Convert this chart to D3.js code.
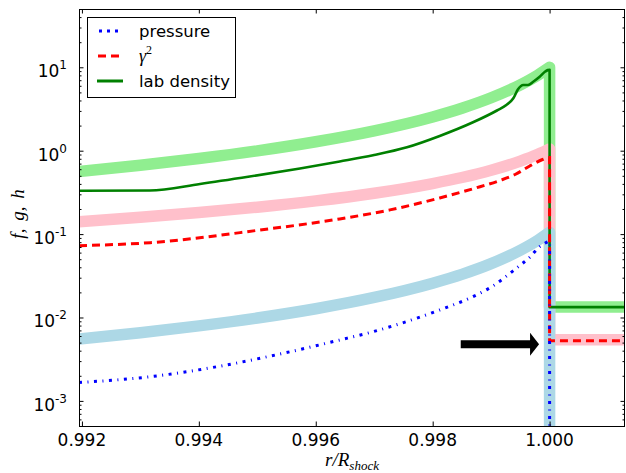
<!DOCTYPE html>
<html><head><meta charset="utf-8">
<script src="https://cdn.jsdelivr.net/npm/d3@7"></script>
<style>body{margin:0;background:#fff}svg{display:block}</style>
</head><body><svg id="c" width="626" height="473"></svg>
<script>
// ---------- data ----------
const xDomain = [0.99195, 1.00129];
const yDomain = [5e-4, 50];
const xTicks = [0.992, 0.994, 0.996, 0.998, 1.000];
const xTickLabels = ["0.992", "0.994", "0.996", "0.998", "1.000"];
const yTicks = [1e-3, 1e-2, 1e-1, 1, 10];
const yTickExp = ["-3", "-2", "-1", "0", "1"];

// analytic (thick, light) profiles, upstream of the shock
const rAnalytic = [0.99195, 0.993, 0.994, 0.995, 0.996, 0.997, 0.998, 0.9985, 0.999, 0.9995, 0.9998, 1.0];
const densAnalytic  = [0.564, 0.669, 0.805, 0.996, 1.28, 1.73, 2.54, 3.23, 4.31, 6.17, 8.08, 10.0];
const gammaAnalytic = [0.141, 0.159, 0.181, 0.21, 0.25, 0.309, 0.404, 0.477, 0.583, 0.75, 0.905, 1.05];
const presAnalytic  = [0.0055, 0.00655, 0.00793, 0.00986, 0.01274, 0.01738, 0.0258, 0.0329, 0.0442, 0.064, 0.0844, 0.105];
// analytic jump at the shock and downstream values
const rJump = [1.0, 1.0, 1.0016];
const densAnalyticJump  = [10.0, 0.0134, 0.0134];
const gammaAnalyticJump = [1.05, 0.0054, 0.0054];
const presAnalyticJump  = [0.105, 1e-5, 1e-5];

// numerical (thin) profiles
const rDensNum = [0.99195, 0.99316, 0.99402, 0.99487, 0.99573, 0.99641, 0.99698, 0.99756, 0.99812, 0.99869,
                  0.99910, 0.99926, 0.99938, 0.99946, 0.99955, 0.99963, 0.99972, 0.99983, 0.99992, 0.99997];
const densNum = [0.331, 0.333, 0.399, 0.490, 0.612, 0.742, 0.881, 1.098, 1.501, 2.190,
                 3.034, 3.53, 4.25, 5.45, 6.13, 6.13, 6.71, 7.70, 8.85, 9.28];
const rGammaNum = [0.99195, 0.99317, 0.99505, 0.99641, 0.99727, 0.99812, 0.99881, 0.99915, 0.99941, 0.99966, 0.99988, 0.99997];
const gammaNum = [0.0727, 0.0789, 0.112, 0.152, 0.195, 0.271, 0.370, 0.439, 0.518, 0.656, 0.784, 0.829];
const rPresNum = [0.99195, 0.99317, 0.99431, 0.99544, 0.99641, 0.99698, 0.99755, 0.99812, 0.99869, 0.99903,
                  0.99943, 0.99966, 0.99983, 0.99997];
const presNum = [0.00166, 0.00195, 0.00257, 0.00372, 0.00537, 0.00676, 0.00891, 0.0123, 0.0178, 0.0239,
                 0.0389, 0.0527, 0.0706, 0.0811];
const densNumJump  = [9.3, 0.0133, 0.0133];
const gammaNumJump = [0.83, 0.00525, 0.00525];
const presNumJump  = [0.082, 1e-5, 1e-5];

// arrow
const arrowR = [0.99848, 0.99982];
const arrowV = 0.00477;

const legendLabels = ["pressure", "\u03B3", "lab density"];

// ---------- drawing ----------
const svg = d3.select("#c");
const M = {l: 79, r: 625, t: 9, b: 426};
const x = d3.scaleLinear().domain(xDomain).range([M.l, M.r]);
const y = d3.scaleLog().domain(yDomain).range([M.b, M.t]);

svg.append("defs").append("clipPath").attr("id", "clip")
  .append("rect").attr("x", M.l).attr("y", M.t).attr("width", M.r - M.l).attr("height", M.b - M.t);
const plot = svg.append("g").attr("clip-path", "url(#clip)");

function pathFor(rs, vs, rj, vj) {
  const pts = rs.map((r, i) => [x(r), y(vs[i])]);
  const smooth = d3.line().curve(d3.curveMonotoneX)(pts);
  const jp = rj.map((r, i) => [x(r), y(vj[i])]);
  return smooth + "L" + d3.line()(jp).slice(1);
}

const thickW = 11.5;
[[densAnalytic, densAnalyticJump, "#90ee90"],
 [gammaAnalytic, gammaAnalyticJump, "#ffc0cb"],
 [presAnalytic, presAnalyticJump, "#add8e6"]].forEach(([v, vj, c]) => {
  plot.append("path").attr("d", pathFor(rAnalytic, v, rJump, vj))
    .attr("fill", "none").attr("stroke", c).attr("stroke-width", thickW)
    .attr("stroke-linejoin", "round");
});

plot.append("path").attr("d", pathFor(rDensNum, densNum, rJump, densNumJump))
  .attr("fill", "none").attr("stroke", "#008000").attr("stroke-width", 2.6).attr("stroke-linejoin", "round");
plot.append("path").attr("d", pathFor(rGammaNum, gammaNum, rJump, gammaNumJump))
  .attr("fill", "none").attr("stroke", "#ff0000").attr("stroke-width", 3).attr("stroke-dasharray", "8,5");
plot.append("path").attr("d", pathFor(rPresNum, presNum, rJump, presNumJump))
  .attr("fill", "none").attr("stroke", "#0000ff").attr("stroke-width", 3).attr("stroke-dasharray", "3,5.5,1,5.5");

// arrow
(function() {
  const x0 = x(arrowR[0]), x1 = x(arrowR[1]), yc = y(arrowV);
  const hl = 9, sh = 4, hh = 11.5;
  const pts = [[x0, yc - sh], [x1 - hl, yc - sh], [x1 - hl, yc - hh], [x1, yc],
               [x1 - hl, yc + hh], [x1 - hl, yc + sh], [x0, yc + sh]];
  svg.append("path").attr("d", d3.line()(pts) + "Z").attr("fill", "#000");
})();

// frame
svg.append("rect").attr("x", M.l + 0.5).attr("y", M.t + 0.5)
  .attr("width", M.r - M.l - 1).attr("height", M.b - M.t)
  .attr("fill", "none").attr("stroke", "#000").attr("stroke-width", 1);

// ticks
const minorY = [];
for (let e = -4; e <= 1; e++) for (let m = 2; m <= 9; m++) {
  const v = m * Math.pow(10, e);
  if (v > yDomain[0] && v < yDomain[1]) minorY.push(v);
}
function tickAxis(axisGen, transform) {
  const g = svg.append("g").attr("transform", transform).call(axisGen);
  g.select(".domain").remove();
  g.selectAll("text").remove();
  g.selectAll("line").attr("stroke", "#000");
}
tickAxis(d3.axisLeft(y).tickValues(yTicks).tickSize(-4.5).tickSizeOuter(0), `translate(${M.l},0)`);
tickAxis(d3.axisLeft(y).tickValues(minorY).tickSize(-2.5).tickSizeOuter(0), `translate(${M.l},0)`);
tickAxis(d3.axisRight(y).tickValues(yTicks).tickSize(-4.5).tickSizeOuter(0), `translate(${M.r},0)`);
tickAxis(d3.axisRight(y).tickValues(minorY).tickSize(-2.5).tickSizeOuter(0), `translate(${M.r},0)`);
tickAxis(d3.axisBottom(x).tickValues(xTicks).tickSize(-4.5).tickSizeOuter(0), `translate(0,${M.b})`);
tickAxis(d3.axisTop(x).tickValues(xTicks).tickSize(-4.5).tickSizeOuter(0), `translate(0,${M.t})`);

// tick labels
const font = "DejaVu Sans";
xTicks.forEach((t, i) => {
  svg.append("text").attr("x", x(t)).attr("y", 445.5).attr("text-anchor", "middle")
    .attr("font-family", font).attr("font-size", 17).text(xTickLabels[i]);
});
yTicks.forEach((t, i) => {
  const tx = svg.append("text").attr("x", 67).attr("y", y(t) + 10).attr("text-anchor", "end")
    .attr("font-family", font).attr("font-size", 17);
  tx.append("tspan").text("10");
  tx.append("tspan").attr("dy", -8).attr("font-size", 12).text(yTickExp[i]);
});

// axis labels
const xl = svg.append("text").attr("x", 352).attr("y", 466).attr("text-anchor", "middle")
  .attr("font-family", "Liberation Serif").attr("font-style", "italic").attr("font-size", 19);
xl.append("tspan").text("r/R");
xl.append("tspan").attr("dy", 4).attr("font-size", 13).text("shock");

svg.append("text").attr("transform", "translate(24,214) rotate(-90)").attr("text-anchor", "middle")
  .attr("font-family", "Liberation Serif").attr("font-style", "italic").attr("font-size", 19)
  .attr("word-spacing", 3).text("f, g, h");

// legend
const lg = svg.append("g");
lg.append("rect").attr("x", 87.5).attr("y", 17.5).attr("width", 148).attr("height", 80)
  .attr("fill", "#fff").attr("stroke", "#000").attr("stroke-width", 1);
const legendRows = [
  {y: 31, stroke: "#0000ff", w: 3, dash: "3,5", x0: 99},
  {y: 56, stroke: "#ff0000", w: 3, dash: "8,5", x0: 98},
  {y: 81, stroke: "#008000", w: 3, dash: null, x0: 97}
];
legendRows.forEach((row, i) => {
  lg.append("line").attr("x1", row.x0).attr("x2", 123).attr("y1", row.y).attr("y2", row.y)
    .attr("stroke", row.stroke).attr("stroke-width", row.w).attr("stroke-dasharray", row.dash);
  const t = lg.append("text").attr("x", 139).attr("y", row.y + 6)
    .attr("font-family", font).attr("font-size", 16.5);
  if (i === 1) {
    t.append("tspan").attr("font-family", "Liberation Serif").attr("font-style", "italic")
      .attr("font-size", 18).text(legendLabels[i]);
    t.append("tspan").attr("dy", -8).attr("font-size", 12).attr("font-family", "Liberation Serif").text("2");
  } else {
    t.text(legendLabels[i]);
  }
});
</script>
</body></html>
